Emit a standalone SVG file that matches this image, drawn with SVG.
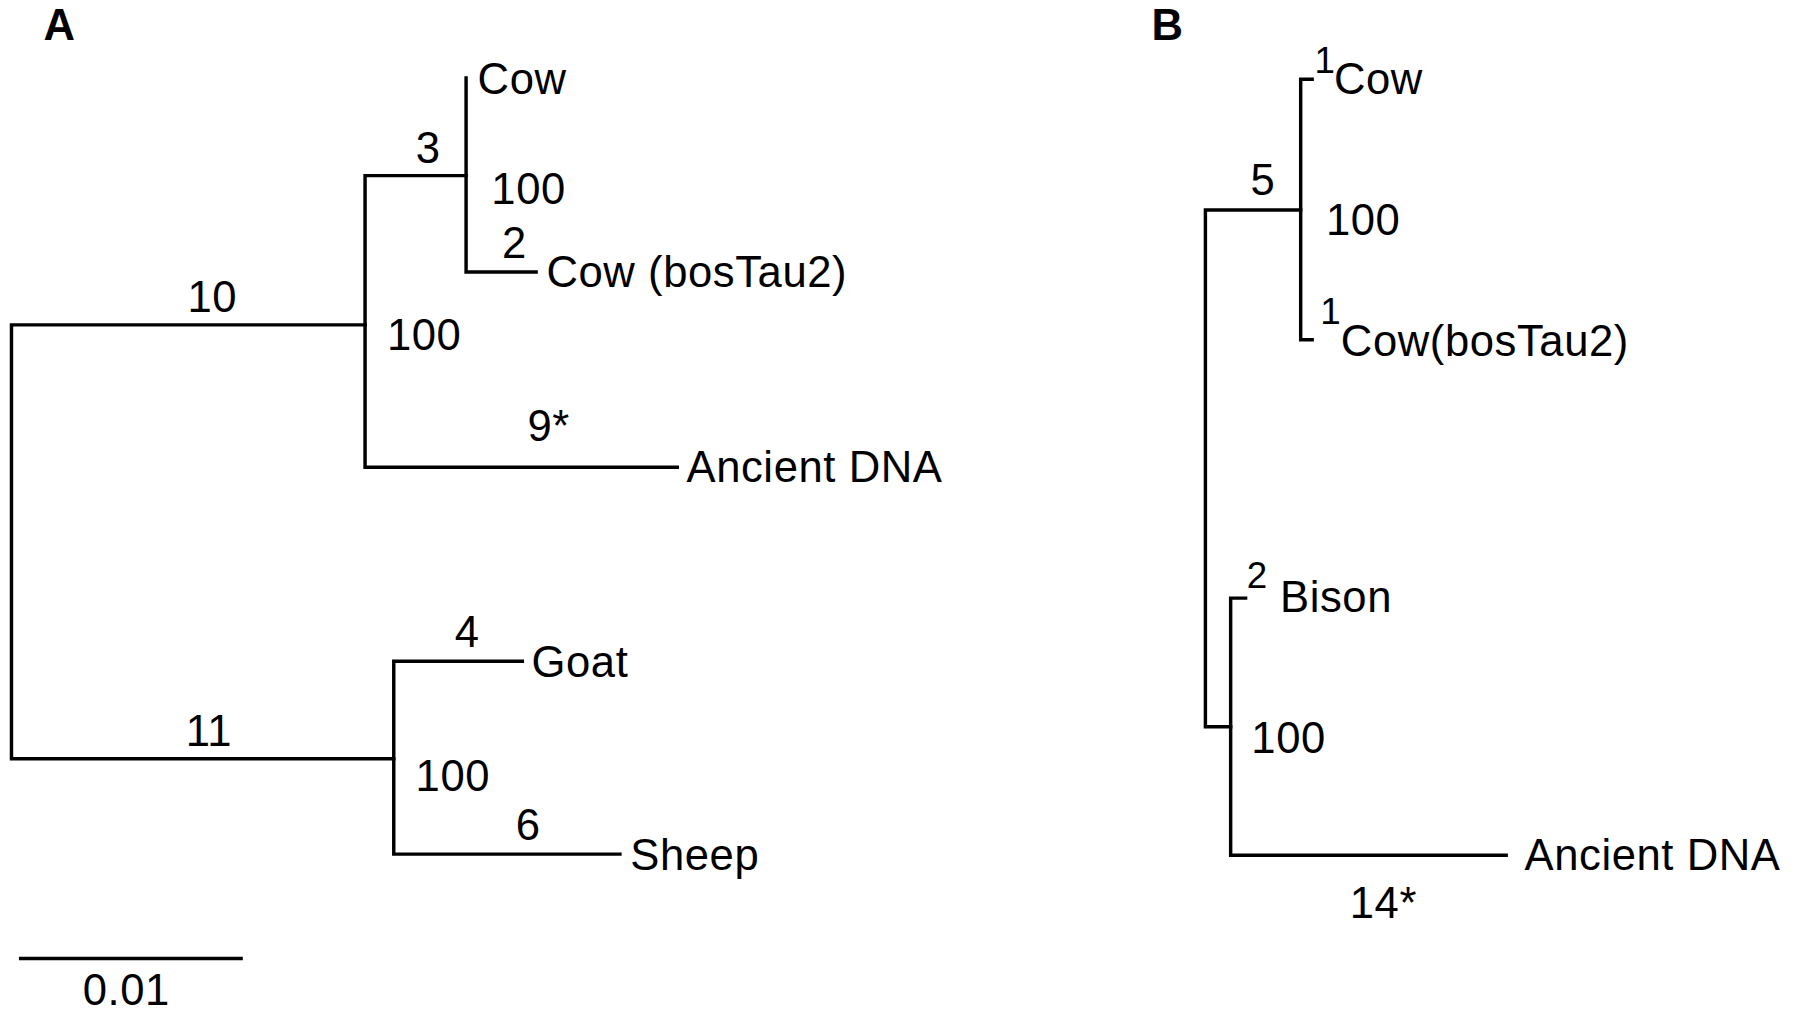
<svg xmlns="http://www.w3.org/2000/svg" width="1800" height="1010" viewBox="0 0 1800 1010">
<style>
.l{stroke:#000;stroke-width:3;fill:none;stroke-linecap:square}
text{font-family:"Liberation Sans",Arial,sans-serif;font-size:38px;fill:#000;letter-spacing:0.5px}
.b{font-weight:bold;font-size:38px}
.m{text-anchor:middle}
.s{font-size:32px}
</style>
<rect width="1800" height="1010" fill="#fff"/>
<g transform="scale(1.148)">
<g id="connectors">
<path class="l" d="M318,283H10V661H343"/>
<path class="l" d="M406,153H318V407H590"/>
<path class="l" d="M406,68V237H467"/>
<path class="l" d="M455,576H343V744H540"/>
<path class="l" d="M18,835H210"/>
<path class="l" d="M1133,183H1050V633H1072"/>
<path class="l" d="M1143,69H1133V296H1143"/>
<path class="l" d="M1085,521H1072V745H1312"/>
</g>
<g id="panelA">
<text class="b" x="38" y="35">A</text>
<text class="m" x="185" y="272">10</text>
<text class="m" x="182" y="650">11</text>
<text class="m" x="373" y="142">3</text>
<text x="337" y="305">100</text>
<text x="416" y="82">Cow</text>
<text x="428" y="178">100</text>
<text class="m" x="448" y="225">2</text>
<text x="476" y="250">Cow (bosTau2)</text>
<text class="m" x="478" y="384">9*</text>
<text x="598" y="420">Ancient DNA</text>
<text class="m" x="407" y="564">4</text>
<text x="463" y="590">Goat</text>
<text x="362" y="689">100</text>
<text class="m" x="460" y="732">6</text>
<text x="549" y="758">Sheep</text>
<text class="m" x="110" y="875">0.01</text>
</g>
<g id="panelB">
<text class="b" x="1003" y="35">B</text>
<text class="m" x="1100" y="170">5</text>
<text x="1145" y="64" class="s">1</text>
<text x="1162" y="82">Cow</text>
<text x="1155" y="205">100</text>
<text x="1150" y="282" class="s">1</text>
<text x="1168" y="310">Cow(bosTau2)</text>
<text x="1086" y="512" class="s">2</text>
<text x="1115" y="533">Bison</text>
<text x="1090" y="656">100</text>
<text x="1328" y="758">Ancient DNA</text>
<text class="m" x="1205" y="800">14*</text>
</g>
</g>
</svg>
